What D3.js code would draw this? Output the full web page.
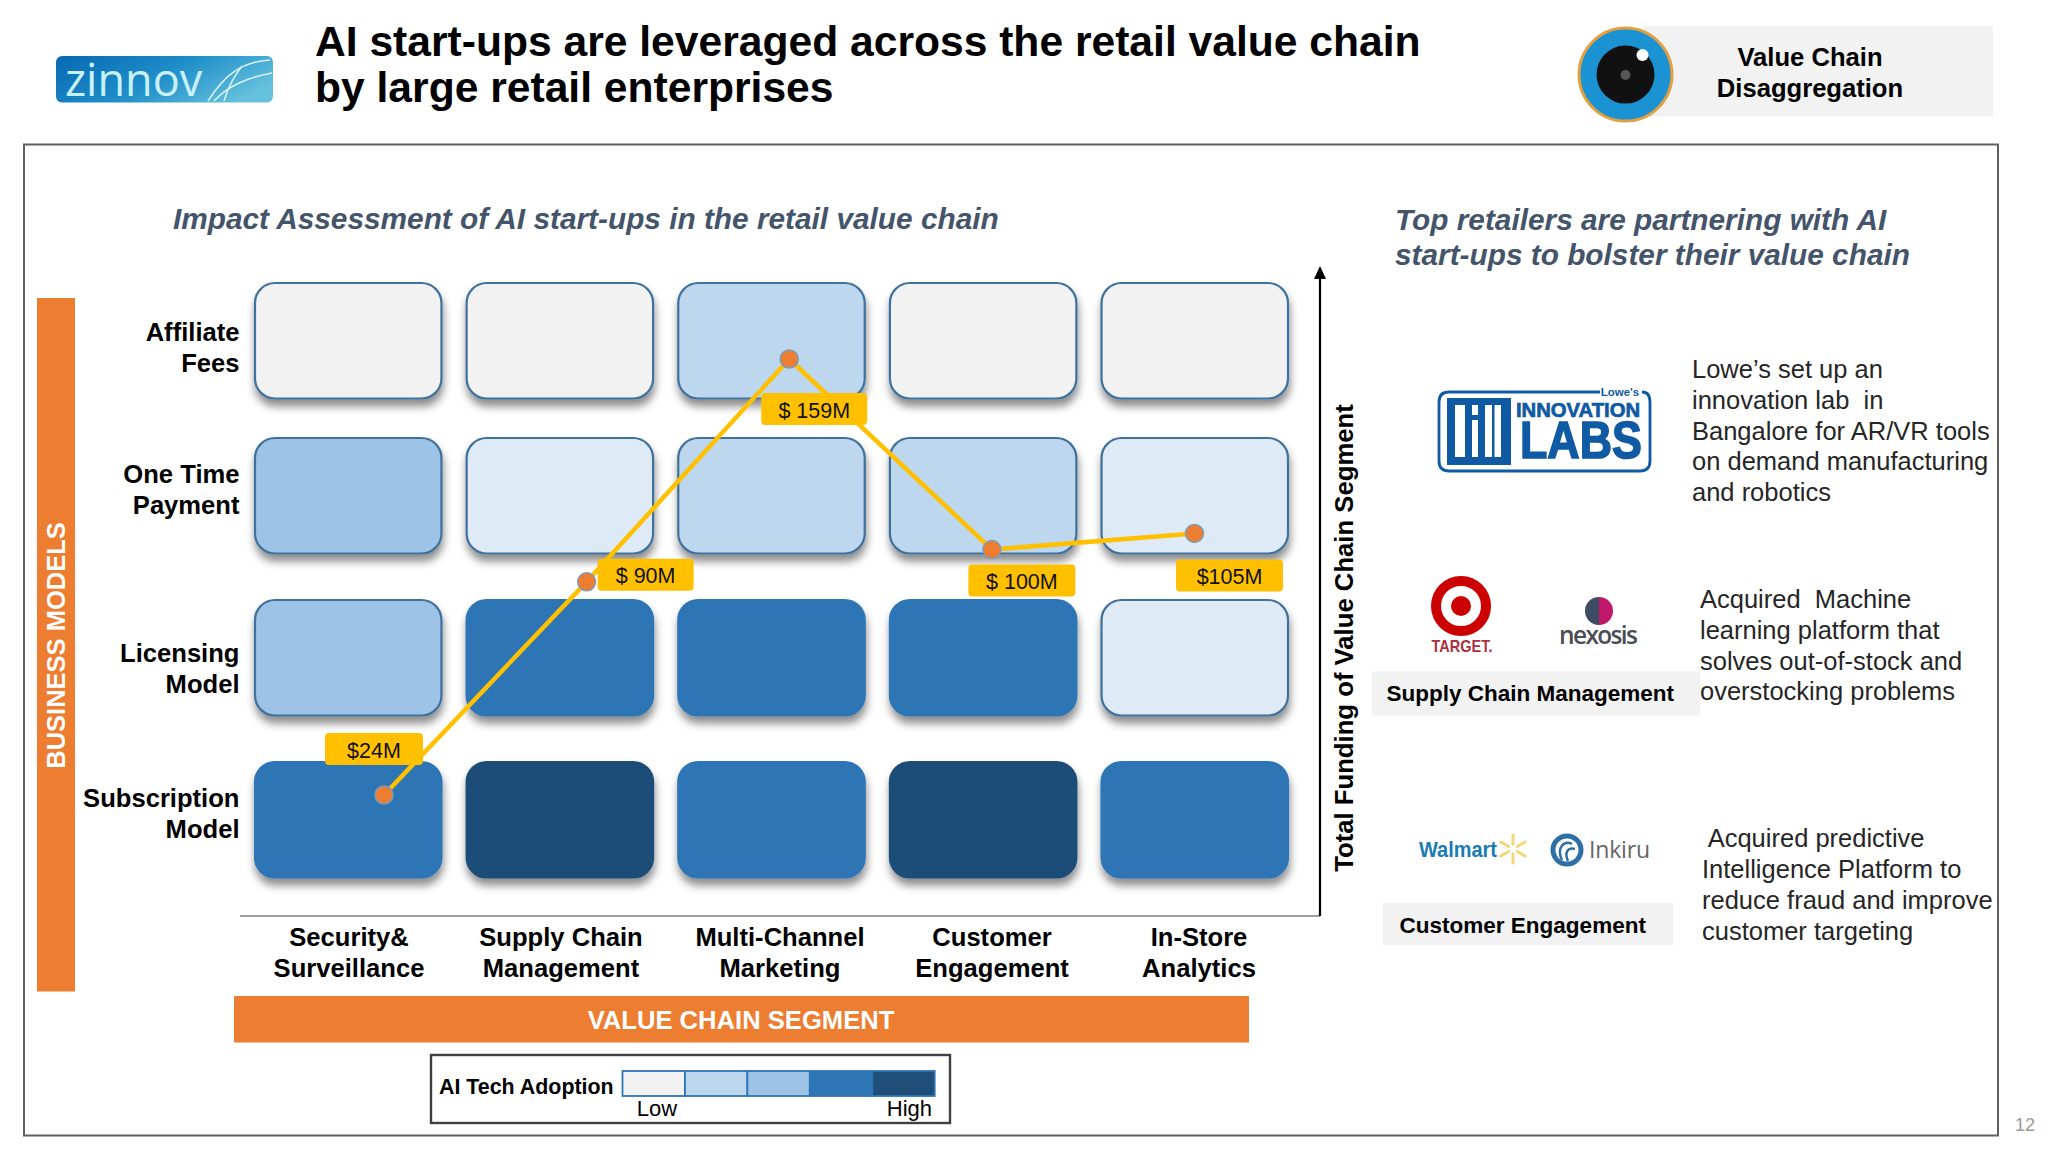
<!DOCTYPE html>
<html>
<head>
<meta charset="utf-8">
<script src="https://cdn.jsdelivr.net/npm/d3@7/dist/d3.min.js"></script>
<style>
html,body{margin:0;padding:0;background:#fff}
svg{display:block}
text{font-family:"Liberation Sans",Arial,sans-serif}
</style>
</head>
<body>
<div id="chart"></div>
<script>
// ---- data ----
const segments = ["Security&|Surveillance","Supply Chain|Management","Multi-Channel|Marketing","Customer|Engagement","In-Store|Analytics"];
const models = ["Affiliate|Fees","One Time|Payment","Licensing|Model","Subscription|Model"];
const adoptionAffiliate = [1,1,3,1,1];
const adoptionOneTime = [4,2,3,3,2];
const adoptionLicensing = [4,5,5,5,2];
const adoptionSubscription = [5,6,5,6,5];
const funding = [24,90,159,100,105];
const fundingLabels = ["$24M","$ 90M","$ 159M","$ 100M","$105M"];
const adoptionLevels = [1,2,3,4,5,6];
const adoptionColors = ["#F2F2F2","#DEEBF7","#BDD7EE","#9DC3E6","#2E75B6","#1F4E79"];
const legendLevels = [1,3,4,5,6];
const legendTitle = "AI Tech Adoption";
const legendEnds = ["Low","High"];
const title = ["AI start-ups are leveraged across the retail value chain","by large retail enterprises"];
const leftHeading = "Impact Assessment of AI start-ups in the retail value chain";
const rightHeading = ["Top retailers are partnering with AI","start-ups to bolster their value chain"];
const badgeText = ["Value Chain","Disaggregation"];
const yAxisLabel = "Total Funding of Value Chain Segment";
const xBanner = "VALUE CHAIN SEGMENT";
const yBanner = "BUSINESS MODELS";
const note1 = ["Lowe’s set up an","innovation lab  in","Bangalore for AR/VR tools","on demand manufacturing","and robotics"];
const note2 = ["Acquired  Machine","learning platform that","solves out-of-stock and","overstocking problems"];
const note3 = [" Acquired predictive","Intelligence Platform to","reduce fraud and improve","customer targeting"];
const tag2 = "Supply Chain Management";
const tag3 = "Customer Engagement";
const pageNumber = "12";

// ---- scales ----
const adoption = [adoptionAffiliate,adoptionOneTime,adoptionLicensing,adoptionSubscription];
const color = d3.scaleOrdinal(adoptionLevels, adoptionColors);
const xTile = d3.scaleBand().domain(segments).range([255,1288]).paddingInner(0.119);
const yTile = d3.scaleOrdinal(models,[283,438,600,762]);
const tileH = 115.5;
const xPoint = d3.scalePoint().domain(segments).range([384,1194.5]);
const yFund = d3.scaleLinear().domain([24,159]).range([795,359]);
const xLabel = d3.scaleOrdinal(segments,[349,561,780,992,1199]);
const yLabel = d3.scaleOrdinal(models,[341,483,662,807]);

const svg = d3.select("#chart").append("svg").attr("width",2048).attr("height",1152);
const defs = svg.append("defs");
const sh = defs.append("filter").attr("id","shadow").attr("x","-15%").attr("y","-15%").attr("width","130%").attr("height","140%");
sh.append("feDropShadow").attr("dx",1).attr("dy",7).attr("stdDeviation",4).attr("flood-color","#000").attr("flood-opacity",0.45);
const lg = defs.append("linearGradient").attr("id","zin").attr("x1",0).attr("x2",1).attr("y1",0.2).attr("y2",0.6);
lg.append("stop").attr("offset",0).attr("stop-color","#0a6db4");
lg.append("stop").attr("offset",0.5).attr("stop-color","#1f8ec9");
lg.append("stop").attr("offset",1).attr("stop-color","#66c1dd");

function lines(g,arr,x,ys,opts){
  opts=opts||{};
  arr.forEach((t,i)=>{
    g.append("text").attr("x",x).attr("y",ys[i]).attr("xml:space","preserve").style("white-space","pre")
     .attr("text-anchor",opts.anchor||"start").attr("font-size",opts.size||26)
     .attr("font-weight",opts.weight||"normal").attr("font-style",opts.style||"normal")
     .attr("fill",opts.fill||"#000").text(t);
  });
}

// ---- header ----
const zg = svg.append("g");
zg.append("rect").attr("x",56).attr("y",56).attr("width",217).attr("height",46.5).attr("rx",6).attr("fill","url(#zin)");
zg.append("text").attr("x",65).attr("y",96).attr("font-size",45).attr("fill","#c9f1f8").style("font-family","'Open Sans'").text("zinnov");
[["M208 101 C224 76 240 62 270 60"],["M214 101 C228 86 246 78 272 73"],["M224 101 C228 88 234 76 242 66"]].forEach(d=>
  zg.append("path").attr("d",d[0]).attr("fill","none").attr("stroke","#d8f3f8").attr("stroke-width",1.5));

lines(svg,title,315,[56,102],{size:42.6,weight:"bold"});

svg.append("rect").attr("x",1644).attr("y",26).attr("width",349).attr("height",90.5).attr("fill","#F2F2F2");
svg.append("circle").attr("cx",1625.5).attr("cy",74.6).attr("r",46.5).attr("fill","#1B93D2").attr("stroke","#E2A040").attr("stroke-width",3);
svg.append("circle").attr("cx",1625.5).attr("cy",74.6).attr("r",29).attr("fill","#111");
svg.append("circle").attr("cx",1625.5).attr("cy",75).attr("r",5).attr("fill","#555");
svg.append("circle").attr("cx",1642.5).attr("cy",55).attr("r",6).attr("fill","#fff");
lines(svg,badgeText,1810,[66,97],{size:25.6,weight:"bold",anchor:"middle"});

// ---- frame ----
svg.append("rect").attr("x",24).attr("y",144.5).attr("width",1974).attr("height",991).attr("fill","none").attr("stroke","#606060").attr("stroke-width",2);
svg.append("text").attr("x",2035).attr("y",1131).attr("text-anchor","end").attr("font-size",18).attr("fill","#999").text(pageNumber);

// ---- headings ----
const hs={size:29.8,weight:"bold",style:"italic",fill:"#44546A"};
lines(svg,[leftHeading],173,[228.5],hs);
lines(svg,rightHeading,1395,[229.5,265],hs);

// ---- banners ----
svg.append("rect").attr("x",37).attr("y",298).attr("width",38).attr("height",693.5).attr("fill","#ED7D31");
svg.append("text").attr("transform","translate(65,645.5) rotate(-90)").attr("text-anchor","middle").attr("font-size",25.5).attr("font-weight","bold").attr("fill","#fff").text(yBanner);
svg.append("rect").attr("x",234).attr("y",996).attr("width",1015).attr("height",46.5).attr("fill","#ED7D31");
svg.append("text").attr("x",741).attr("y",1029).attr("text-anchor","middle").attr("font-size",25.6).attr("font-weight","bold").attr("fill","#fff").text(xBanner);

// ---- tiles ----
const tiles = svg.append("g");
models.forEach((m,r)=>{
  tiles.selectAll(null).data(segments).join("rect")
    .attr("x",d=>xTile(d)).attr("y",yTile(m))
    .attr("width",xTile.bandwidth()).attr("height",tileH)
    .attr("rx",20).attr("ry",20)
    .attr("fill",(d,c)=>color(adoption[r][c]))
    .attr("stroke",(d,c)=>adoption[r][c]>=5?color(adoption[r][c]):"#41719C")
    .attr("stroke-width",2.2)
    .attr("filter","url(#shadow)");
});

// ---- axis lines ----
svg.append("line").attr("x1",240).attr("x2",1320).attr("y1",916).attr("y2",916).attr("stroke","#7f7f7f").attr("stroke-width",1.6);
svg.append("line").attr("x1",1320).attr("x2",1320).attr("y1",916).attr("y2",272).attr("stroke","#000").attr("stroke-width",2.2);
svg.append("path").attr("d",d3.line()([[1320,266],[1326,279],[1314,279]])+"Z").attr("fill","#000");
svg.append("text").attr("transform","translate(1353,638) rotate(-90)").attr("text-anchor","middle").attr("font-size",25.7).attr("font-weight","bold").text(yAxisLabel);

// ---- axis labels ----
models.forEach(m=>{
  const p=m.split("|");
  lines(svg,p,239.5,[yLabel(m),yLabel(m)+30.5],{size:25.6,weight:"bold",anchor:"end"});
});
segments.forEach(s=>{
  lines(svg,s.split("|"),xLabel(s),[946,976.5],{size:25.6,weight:"bold",anchor:"middle"});
});

// ---- funding line ----
const line = d3.line().x((d,i)=>xPoint(segments[i])).y(d=>yFund(d));
svg.append("path").datum(funding).attr("d",line).attr("fill","none").attr("stroke","#FFC000").attr("stroke-width",4.5).attr("stroke-linejoin","round");

const badgeDx=[-10,59,25,30,35], badgeDy=[-46,-7,50,31,42], badgeW=[98,96,106,107,107];
funding.forEach((v,i)=>{
  const cx=xPoint(segments[i])+badgeDx[i], cy=yFund(v)+badgeDy[i];
  svg.append("rect").attr("x",cx-badgeW[i]/2).attr("y",cy-16).attr("width",badgeW[i]).attr("height",32).attr("rx",4).attr("fill","#FFC000");
  svg.append("text").attr("x",cx).attr("y",cy+8.5).attr("text-anchor","middle").attr("font-size",21.5).attr("fill","#111").text(fundingLabels[i]);
});
svg.selectAll("circle.pt").data(funding).join("circle").attr("class","pt")
  .attr("cx",(d,i)=>xPoint(segments[i])).attr("cy",d=>yFund(d)).attr("r",9)
  .attr("fill","#ED7D31").attr("stroke","#7E9BB8").attr("stroke-width",1.5);

// ---- legend ----
svg.append("rect").attr("x",431).attr("y",1055).attr("width",519).attr("height",68).attr("fill","#fff").attr("stroke","#404040").attr("stroke-width",2.4);
svg.append("text").attr("x",439).attr("y",1094).attr("font-size",21.4).attr("font-weight","bold").text(legendTitle);
const xLeg = d3.scaleBand().domain(legendLevels).range([622.5,934.7]);
svg.selectAll("rect.leg").data(legendLevels).join("rect").attr("class","leg")
  .attr("x",d=>xLeg(d)).attr("y",1071).attr("width",xLeg.bandwidth()).attr("height",25)
  .attr("fill",d=>color(d)).attr("stroke","#2E75B6").attr("stroke-width",1.8);
svg.append("text").attr("x",657).attr("y",1116).attr("text-anchor","middle").attr("font-size",22).text(legendEnds[0]);
svg.append("text").attr("x",932).attr("y",1116).attr("text-anchor","end").attr("font-size",22).text(legendEnds[1]);

// ---- right panel ----
const noteStyle={size:25.5,fill:"#262626"};
lines(svg,note1,1692,[378,408.5,440,470,501],noteStyle);
lines(svg,note2,1700,[607.5,638.5,669.5,700],noteStyle);
lines(svg,note3,1702,[847,878,908.5,940],noteStyle);

svg.append("rect").attr("x",1371.5).attr("y",671.5).attr("width",329).attr("height",44).attr("fill","#F2F2F2");
svg.append("text").attr("x",1386.5).attr("y",701).attr("font-size",22.5).attr("font-weight","bold").text(tag2);
svg.append("rect").attr("x",1383).attr("y",903).attr("width",290).attr("height",42).attr("fill","#F2F2F2");
svg.append("text").attr("x",1399.6).attr("y",933).attr("font-size",22.5).attr("font-weight","bold").text(tag3);

// Lowe's Innovation Labs logo
const lw = svg.append("g"), blue="#0F5AA3";
lw.append("path").attr("d","M1600 392 H1449 Q1439 392 1439 402 V461 Q1439 471 1449 471 H1640 Q1650 471 1650 461 V402 Q1650 392 1642 392").attr("fill","none").attr("stroke",blue).attr("stroke-width",2.8);
lw.append("rect").attr("x",1447).attr("y",398).attr("width",64).attr("height",67).attr("fill",blue);
[[1455,405,10,52],[1472,420,6,37],[1472,405,6,10],[1485,405,16,52]].forEach(b=>
  lw.append("rect").attr("x",b[0]).attr("y",b[1]).attr("width",b[2]).attr("height",b[3]).attr("fill","#fff"));
lw.append("rect").attr("x",1492).attr("y",405).attr("width",2.5).attr("height",52).attr("fill",blue);
lw.append("text").attr("x",1578).attr("y",417).attr("text-anchor","middle").attr("font-size",20).attr("font-weight","bold").attr("fill",blue).attr("stroke",blue).attr("stroke-width",0.7).attr("textLength",124).attr("lengthAdjust","spacingAndGlyphs").text("INNOVATION");
lw.append("text").attr("x",1581).attr("y",458).attr("text-anchor","middle").attr("font-size",52).attr("font-weight","bold").attr("fill",blue).attr("stroke",blue).attr("stroke-width",1.6).attr("textLength",122).attr("lengthAdjust","spacingAndGlyphs").text("LABS");
lw.append("text").attr("x",1620).attr("y",396).attr("text-anchor","middle").attr("font-size",11.5).attr("font-weight","bold").attr("fill",blue).text("Lowe's");

// Target + Nexosis
const tg = svg.append("g");
tg.append("circle").attr("cx",1461).attr("cy",606).attr("r",25).attr("fill","none").attr("stroke","#CC0000").attr("stroke-width",10);
tg.append("circle").attr("cx",1461).attr("cy",606).attr("r",10).attr("fill","#CC0000");
tg.append("text").attr("x",1462).attr("y",652).attr("text-anchor","middle").attr("font-size",17).attr("font-weight","bold").attr("fill","#A93040").attr("textLength",61).attr("lengthAdjust","spacingAndGlyphs").text("TARGET.");
tg.append("path").attr("d",d3.arc()({innerRadius:0,outerRadius:14,startAngle:Math.PI,endAngle:2*Math.PI})).attr("transform","translate(1599,611)").attr("fill","#3F4A63");
tg.append("path").attr("d",d3.arc()({innerRadius:0,outerRadius:14,startAngle:0,endAngle:Math.PI})).attr("transform","translate(1599,611)").attr("fill","#C2186B");
tg.append("text").attr("x",1559).attr("y",644).attr("font-size",24.5).attr("font-weight","600").attr("fill","#4A4D55").attr("textLength",79).attr("lengthAdjust","spacing").style("font-family","'Open Sans'").text("nexosis");

// Walmart + Inkiru
const wm = svg.append("g");
wm.append("text").attr("x",1419).attr("y",857).attr("font-size",22).attr("font-weight","bold").attr("fill","#1A7CB5").attr("textLength",78).attr("lengthAdjust","spacingAndGlyphs").text("Walmart");
d3.range(6).forEach(i=>{
  const a=i*Math.PI/3+Math.PI/2;
  wm.append("line").attr("x1",1513+5*Math.cos(a)).attr("y1",849+5*Math.sin(a)).attr("x2",1513+14*Math.cos(a)).attr("y2",849+14*Math.sin(a))
    .attr("stroke","#F3D676").attr("stroke-width",3).attr("stroke-linecap","round");
});
wm.append("circle").attr("cx",1567).attr("cy",850).attr("r",14).attr("fill","none").attr("stroke","#2F6FA8").attr("stroke-width",5);
wm.append("path").attr("d","M1562 860 C1556 848 1564 840 1572 844 M1568 861 C1564 852 1568 847 1575 849").attr("fill","none").attr("stroke","#2F6FA8").attr("stroke-width",2.5);
wm.append("text").attr("x",1589).attr("y",858).attr("font-size",23).attr("fill","#666").attr("textLength",61).attr("lengthAdjust","spacing").style("font-family","'Open Sans'").text("Inkiru");
</script>
</body>
</html>
